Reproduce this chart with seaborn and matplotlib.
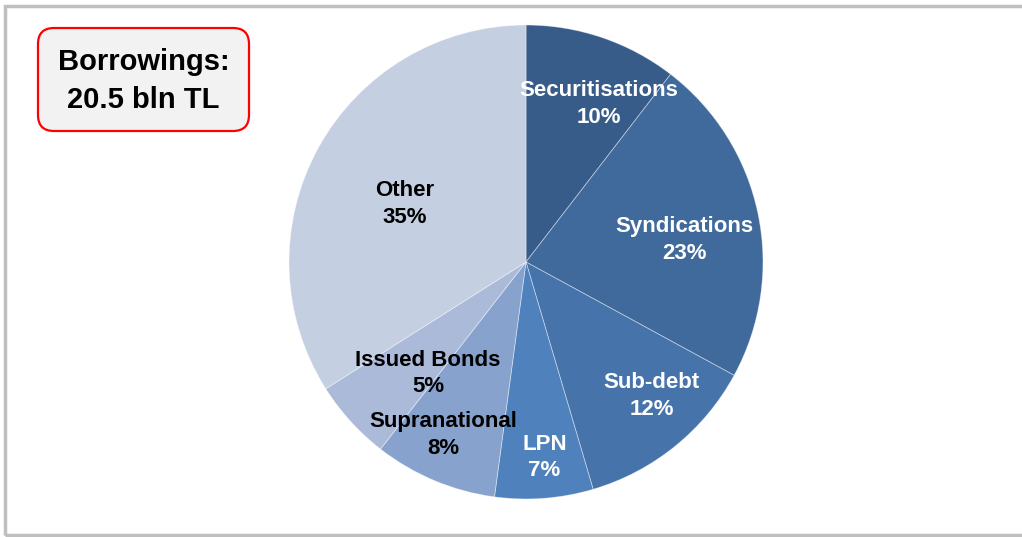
import numpy as np
import seaborn as sns
import matplotlib.pyplot as plt
from matplotlib.patches import FancyBboxPatch, Rectangle

# data
sources = ["Securitisations", "Syndications", "Sub-debt", "LPN",
           "Supranational", "Issued Bonds", "Other"]
# slice sizes as measured from the wedge angles
shares = [10.45, 22.5, 12.5, 6.7, 8.4, 5.5, 34.0]
# percentages as printed on the chart
printed_pct = [10, 23, 12, 7, 8, 5, 35]
total_label = "Borrowings:\n20.5 bln TL"

colors = ["#375C89", "#40699C", "#4673AA", "#4F81BD",
          "#87A2CC", "#AABAD8", "#C5CFE2"]
text_colors = ["white", "white", "white", "white", "black", "black", "black"]
# radial position of each label (fraction of radius) and small angle nudge (deg)
label_r = [0.74, 0.675, 0.77, 0.82, 0.80, 0.62, 0.57]
label_nudge = [-5.6, -3.3, 4.6, 1.0, -3.0, 5.9, 2.5]

sns.set_theme(style="white")
plt.rcParams["font.family"] = ["Liberation Sans", "DejaVu Sans"]

W, H = 1022, 537
fig = plt.figure(figsize=(W / 100, H / 100), dpi=100)
ax = fig.add_axes([0, 0, 1, 1])

cx, cy, R = 526, H - 262, 237
wedges, _ = ax.pie(shares, colors=colors, startangle=90, counterclock=False,
                   center=(cx, cy), radius=R, frame=True,
                   wedgeprops=dict(edgecolor=(1, 1, 1, 0.45), linewidth=0.6))
ax.set_xlim(0, W)
ax.set_ylim(0, H)
ax.set_aspect("equal")
ax.axis("off")

for w, name, val, tc, rf, nd in zip(wedges, sources, printed_pct, text_colors,
                                    label_r, label_nudge):
    mid = np.deg2rad((w.theta1 + w.theta2) / 2 + nd)
    x = cx + rf * R * np.cos(mid)
    y = cy + rf * R * np.sin(mid) - 2
    ax.text(x, y, f"{name}\n{val}%", ha="center", va="center", color=tc,
            fontsize=16, fontweight="bold", linespacing=1.36)

# outer frame
fig.patches.append(Rectangle((5 / W, 2 / H), 1.2, (H - 8) / H,
                             transform=fig.transFigure, fill=False,
                             edgecolor="#BFBFBF", linewidth=2.5))

# headline box
box = FancyBboxPatch((38, H - 131), 211, 103,
                     boxstyle="round,pad=0,rounding_size=16",
                     facecolor="#F2F2F2", edgecolor="#FF0000", linewidth=1.6)
ax.add_patch(box)
ax.text(143.5, H - 81, total_label, ha="center", va="center",
        fontsize=21, fontweight="bold", color="black", linespacing=1.42)

fig.savefig("out.png", dpi=100)
